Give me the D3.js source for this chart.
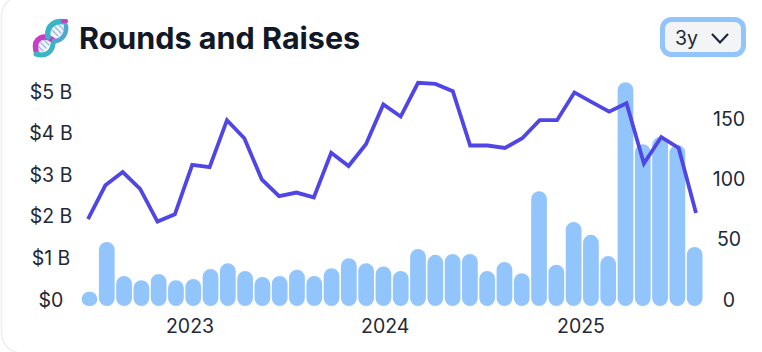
<!DOCTYPE html>
<html>
<head>
<meta charset="utf-8">
<script src="https://cdn.jsdelivr.net/npm/d3@7"></script>
<style>
html, body { margin: 0; padding: 0; background: #fff; overflow: hidden; }
text { font-family: Inter, sans-serif; fill: #1f2937; }
</style>
</head>
<body>
<div id="chart"></div>
<script>
var width = 762;
var height = 352;
var baseline = 306;

var years = [new Date(2023, 0, 1), new Date(2024, 0, 1), new Date(2025, 0, 1)];
var leftTicks = [0, 1, 2, 3, 4, 5];
var rightTicks = [0, 50, 100, 150];

// raised amount per month, $ B
var raises = [0.34, 1.54, 0.72, 0.62, 0.77, 0.62, 0.65, 0.89, 1.03, 0.84, 0.70, 0.72, 0.87, 0.72, 0.91, 1.15,
  1.03, 0.95, 0.84, 1.37, 1.23, 1.25, 1.25, 0.84, 1.06, 0.79, 2.76, 0.99, 2.02, 1.71, 1.20, 5.38, 3.89, 4.06, 3.87, 1.42];
// number of rounds per month
var rounds = [72, 100, 111, 97, 70, 76, 117, 115, 154, 139, 105, 91, 94, 90, 127, 116, 134, 167, 157, 185,
  184, 178, 133, 133, 131, 139, 154, 154, 177, 169, 161, 168, 118, 140, 131, 77];

var svg = d3.select("#chart").append("svg")
  .attr("width", width)
  .attr("height", height);

// card edge, only the left side is in frame
svg.append("rect")
  .attr("x", 1.5).attr("y", -4)
  .attr("width", 800).attr("height", 357)
  .attr("rx", 20)
  .attr("fill", "#fff")
  .attr("stroke", "#eeeeef")
  .attr("stroke-width", 1.5);

var idx = d3.range(raises.length);
var x = d3.scaleBand().domain(idx).range([80.85, 703.3]).paddingInner(0.09).paddingOuter(0.045);
var xLine = d3.scalePoint().domain(idx).range([88, 696]);
var xTime = d3.scaleTime().domain([years[0], years[2]]).range([189.5, 580.5]);
var yLeft = d3.scaleLinear().domain([0, 5]).range([baseline, baseline - 208]);
var yRight = d3.scaleLinear().domain([0, 150]).range([baseline, baseline - 181]);

svg.selectAll(".bar")
  .data(raises)
  .enter()
  .append("path")
  .attr("class", "bar")
  .attr("fill", "#93c5fd")
  .attr("d", function(d, i) {
    var x0 = x(i), w = x.bandwidth(), top = yLeft(d);
    var r = Math.min(w / 2, (baseline - top) / 2);
    return "M" + x0 + "," + (top + r) +
      "A" + r + "," + r + " 0 0 1 " + (x0 + r) + "," + top +
      "H" + (x0 + w - r) +
      "A" + r + "," + r + " 0 0 1 " + (x0 + w) + "," + (top + r) +
      "V" + (baseline - r) +
      "A" + r + "," + r + " 0 0 1 " + (x0 + w - r) + "," + baseline +
      "H" + (x0 + r) +
      "A" + r + "," + r + " 0 0 1 " + x0 + "," + (baseline - r) + "Z";
  });

var line = d3.line()
  .x(function(d, i) { return xLine(i); })
  .y(function(d) { return yRight(d); });

svg.append("path")
  .datum(rounds)
  .attr("d", line)
  .attr("fill", "none")
  .attr("stroke", "#4f46e5")
  .attr("stroke-width", 3.8);

// axes: labels sit 7px above their tick position, like the original
var leftAxis = svg.append("g")
  .attr("transform", "translate(51,-7)")
  .call(d3.axisLeft(yLeft).tickValues(leftTicks).tickSize(0).tickPadding(0)
    .tickFormat(function(d) { return d == 0 ? "$0" : "$" + d + " B"; }));
var rightAxis = svg.append("g")
  .attr("transform", "translate(729,-7)")
  .call(d3.axisRight(yRight).tickValues(rightTicks).tickSize(0).tickPadding(0));
var bottomAxis = svg.append("g")
  .attr("transform", "translate(0,318)")
  .call(d3.axisBottom(xTime).tickValues(years).tickSize(0).tickPadding(0)
    .tickFormat(d3.timeFormat("%Y")));
[leftAxis, rightAxis, bottomAxis].forEach(function(a) {
  a.select(".domain").remove();
  a.attr("font-family", null).attr("font-size", null);
  a.selectAll("text").attr("font-size", 19.5);
});
leftAxis.selectAll("text").attr("text-anchor", "middle").attr("x", 0).attr("dy", "0.36em");
rightAxis.selectAll("text").attr("text-anchor", "middle").attr("x", 0).attr("dy", "0.36em");
bottomAxis.selectAll("text").attr("y", 0).attr("dy", "0.75em");

// title
svg.append("text")
  .attr("x", 79).attr("y", 49)
  .attr("font-size", 30.5).attr("font-weight", 700)
  .style("fill", "#111827")
  .text("Rounds and Raises");

// dropdown
svg.append("rect")
  .attr("x", 662.5).attr("y", 19.5)
  .attr("width", 81).attr("height", 35)
  .attr("rx", 9)
  .attr("fill", "#f3f4f6")
  .attr("stroke", "#93c5fd")
  .attr("stroke-width", 5);
svg.append("text")
  .attr("x", 675).attr("y", 45)
  .attr("font-size", 19.5)
  .text("3y");
svg.append("path")
  .attr("d", "M712,34L720,42.5L728,34")
  .attr("fill", "none")
  .attr("stroke", "#1f2937")
  .attr("stroke-width", 2.2);

// dna icon, no emoji font on this machine
var dna = svg.append("g").attr("fill", "none").attr("stroke-linecap", "round");
[[43, 45], [58, 30]].forEach(function(c) {
  dna.append("ellipse")
    .attr("cx", c[0]).attr("cy", c[1]).attr("rx", 8.5).attr("ry", 5.5)
    .attr("transform", "rotate(-45 " + c[0] + " " + c[1] + ")")
    .attr("fill", "#eef4fb");
  [-3, 0, 3].forEach(function(o) {
    dna.append("path")
      .attr("d", "M" + (c[0] - 3 + o) + "," + (c[1] - 3 - o) + "L" + (c[0] + 3 + o) + "," + (c[1] + 3 - o))
      .attr("stroke", "#9fb6d8").attr("stroke-width", 1.2);
  });
});
dna.append("path")
  .attr("d", "M36,51C33,38 44,33 54,41")
  .attr("stroke", "#c93cc4").attr("stroke-width", 5.5);
dna.append("path")
  .attr("d", "M36,54C46,57 52,52 53,44")
  .attr("stroke", "#3db4c6").attr("stroke-width", 5);
dna.append("path")
  .attr("d", "M48,37C46,25 56,20 65,22")
  .attr("stroke", "#3db4c6").attr("stroke-width", 5.5);
dna.append("path")
  .attr("d", "M54,41C62,41 67,34 66,26")
  .attr("stroke", "#4fa8d0").attr("stroke-width", 4.5);
dna.append("path")
  .attr("d", "M63,21L66,21")
  .attr("stroke", "#c93cc4").attr("stroke-width", 4);
</script>
</body>
</html>
